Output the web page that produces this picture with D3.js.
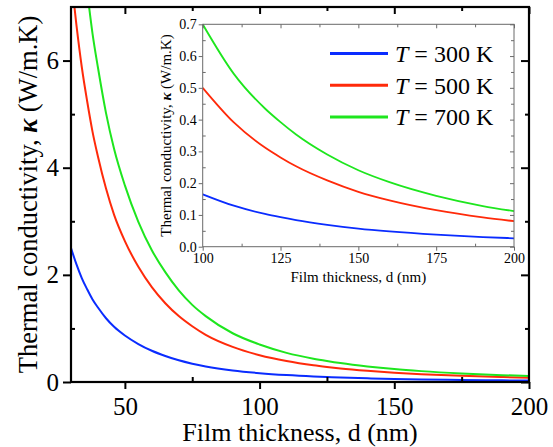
<!DOCTYPE html>
<html><head><meta charset="utf-8">
<script src="https://cdn.jsdelivr.net/npm/d3@7"></script>
<style>body{margin:0;background:#fff}svg{display:block}text{font-family:"Liberation Serif","Times New Roman",Times,serif}</style></head>
<body>
<svg id="c" width="553" height="447"></svg>
<script>
// Film thickness d (nm)
const thickness = [30,32,34,36,38,40,43,46,50,55,60,65,70,75,80,90,100,110,120,125,130,140,150,160,175,190,200];
// Thermal conductivity (W/m.K)
const k300 = [2.50,2.20,1.94,1.73,1.54,1.39,1.19,1.03,0.868,0.709,0.583,0.486,0.405,0.342,0.291,0.216,0.165,0.129,0.103,0.0928,0.0836,0.0688,0.057,0.0481,0.0379,0.0304,0.0265];
const k500 = [7.58,6.67,5.88,5.24,4.67,4.21,3.61,3.12,2.63,2.15,1.77,1.47,1.23,1.04,0.88,0.655,0.50,0.391,0.312,0.281,0.253,0.2085,0.1727,0.1457,0.1148,0.0921,0.0803];
const k700 = [10.55,9.28,8.19,7.30,6.50,5.87,5.02,4.35,3.67,2.99,2.46,2.05,1.71,1.44,1.23,0.91,0.70,0.544,0.435,0.392,0.353,0.290,0.2405,0.203,0.160,0.128,0.112];
const seriesLabels = ["300 K","500 K","700 K"];
const seriesColors = ["#0a2cff","#ff2a0a","#1ee61e"];

const mainXTicks = [50,100,150,200];
const mainXMinor = [75,125,175];
const mainYTicks = [0,2,4,6];
const mainYMinor = [1,3,5];
const insetXTicks = [100,125,150,175,200];
const insetXMinor = [112.5,137.5,162.5,187.5];
const insetYTicks = [0,0.1,0.2,0.3,0.4,0.5,0.6,0.7];
const insetYMinor = [0.05,0.15,0.25,0.35,0.45,0.55,0.65];

const series = [k300,k500,k700].map((vals,i)=>({
  label: seriesLabels[i], color: seriesColors[i],
  pts: thickness.map((d,j)=>({d, v: vals[j]}))
}));

const svg = d3.select("#c");
const serif = "Liberation Serif";

// ---------- main plot ----------
const L=71,R=529,T=7,B=382;
const x = d3.scaleLinear([30,200],[L,R]);
const y = d3.scaleLinear([0,7],[B,T]);

svg.append("clipPath").attr("id","mclip").append("rect")
  .attr("x",L).attr("y",T).attr("width",R-L).attr("height",B-T);

const line = d3.line().x(p=>x(p.d)).y(p=>y(p.v)).curve(d3.curveMonotoneX);
const gm = svg.append("g").attr("clip-path","url(#mclip)");
series.forEach(s=>{
  gm.append("path").attr("d",line(s.pts)).attr("fill","none")
    .attr("stroke",s.color).attr("stroke-width",2);
});

function styleAxis(g, fs, color){
  g.attr("font-family",null);
  g.select(".domain").remove();
  g.selectAll("text").attr("font-family",serif).attr("font-size",fs).attr("fill","#000");
  g.selectAll("line").attr("stroke",color);
}
function ax(axis, tx, ty, fs, color, sw){
  const gg = svg.append("g").attr("transform",`translate(${tx},${ty})`).call(axis);
  styleAxis(gg,fs,color); gg.selectAll("line").attr("stroke-width",sw);
  return gg;
}
// bottom
ax(d3.axisBottom(x).tickValues(mainXTicks).tickSize(7).tickPadding(8).tickFormat(d3.format("d")),0,B,25,"#000",2);
ax(d3.axisBottom(x).tickValues(mainXMinor).tickSize(-5).tickFormat(""),0,B,25,"#000",2);
// top
ax(d3.axisTop(x).tickValues(mainXTicks).tickSize(-7).tickFormat(""),0,T,25,"#000",2);
ax(d3.axisTop(x).tickValues(mainXMinor).tickSize(-4).tickFormat(""),0,T,25,"#000",2);
// left
ax(d3.axisLeft(y).tickValues(mainYTicks).tickSize(8).tickPadding(4).tickFormat(d3.format("d")),L,0,25,"#000",2);
ax(d3.axisLeft(y).tickValues(mainYMinor).tickSize(-4).tickFormat(""),L,0,25,"#000",2);
// right
ax(d3.axisRight(y).tickValues(mainYTicks).tickSize(-8).tickFormat(""),R,0,25,"#000",2);
ax(d3.axisRight(y).tickValues(mainYMinor).tickSize(-4).tickFormat(""),R,0,25,"#000",2);

svg.append("rect").attr("x",L).attr("y",T).attr("width",R-L).attr("height",B-T)
  .attr("fill","none").attr("stroke","#000").attr("stroke-width",2.2);

// main labels
svg.append("text").attr("x",(L+R)/2).attr("y",441).attr("text-anchor","middle")
  .attr("font-family",serif).attr("font-size",26).text("Film thickness, d (nm)");
const yl = svg.append("text").attr("transform",`translate(37,${(T+B)/2}) rotate(-90)`)
  .attr("text-anchor","middle").attr("font-family",serif).attr("font-size",26.5);
yl.append("tspan").text("Thermal conductivity, ");
yl.append("tspan").attr("font-style","italic").attr("font-weight","bold").text("κ");
yl.append("tspan").text(" (W/m.K)");

// ---------- inset ----------
const iL=202.7,iR=514,iT=24.3,iB=246.7;
const xi = d3.scaleLinear([100,200],[iL,iR]);
const yi = d3.scaleLinear([0,0.7],[iB,iT]);
const lineI = d3.line().x(p=>xi(p.d)).y(p=>yi(p.v)).curve(d3.curveMonotoneX);
svg.append("clipPath").attr("id","iclip").append("rect")
  .attr("x",iL).attr("y",iT-2).attr("width",iR-iL).attr("height",iB-iT+2);
const gi = svg.append("g").attr("clip-path","url(#iclip)");
series.forEach(s=>{
  gi.append("path").attr("d",lineI(s.pts.filter(p=>p.d>=100))).attr("fill","none")
    .attr("stroke",s.color).attr("stroke-width",1.8);
});
const gc = "#6a6a6a";
ax(d3.axisBottom(xi).tickValues(insetXTicks).tickSize(4).tickPadding(2).tickFormat(d3.format("d")),0,iB,14,gc,1);
ax(d3.axisBottom(xi).tickValues(insetXMinor).tickSize(-3).tickFormat(""),0,iB,14,gc,1);
ax(d3.axisTop(xi).tickValues(insetXTicks).tickSize(-4).tickFormat(""),0,iT,14,gc,1);
ax(d3.axisTop(xi).tickValues(insetXMinor).tickSize(-3).tickFormat(""),0,iT,14,gc,1);
ax(d3.axisLeft(yi).tickValues(insetYTicks).tickSize(4).tickPadding(2).tickFormat(d3.format(".1f")),iL,0,14,gc,1);
ax(d3.axisLeft(yi).tickValues(insetYMinor).tickSize(-3).tickFormat(""),iL,0,14,gc,1);
ax(d3.axisRight(yi).tickValues(insetYTicks).tickSize(-4).tickFormat(""),iR,0,14,gc,1);
ax(d3.axisRight(yi).tickValues(insetYMinor).tickSize(-3).tickFormat(""),iR,0,14,gc,1);
svg.append("rect").attr("x",iL).attr("y",iT).attr("width",iR-iL).attr("height",iB-iT)
  .attr("fill","none").attr("stroke",gc).attr("stroke-width",1);

svg.append("text").attr("x",(iL+iR)/2).attr("y",282).attr("text-anchor","middle")
  .attr("font-family",serif).attr("font-size",15).text("Film thickness, d (nm)");
const yli = svg.append("text").attr("transform",`translate(170.5,${(iT+iB)/2}) rotate(-90)`)
  .attr("text-anchor","middle").attr("font-family",serif).attr("font-size",15);
yli.append("tspan").text("Thermal conductivity, ");
yli.append("tspan").attr("font-style","italic").attr("font-weight","bold").text("κ");
yli.append("tspan").text(" (W/m.K)");

// legend
const lg = svg.append("g");
series.forEach((s,i)=>{
  const yy = 53.5 + i*31.7;
  lg.append("line").attr("x1",330).attr("x2",388).attr("y1",yy).attr("y2",yy)
    .attr("stroke",s.color).attr("stroke-width",3);
  const t = lg.append("text").attr("x",395).attr("y",yy+8.5)
    .attr("font-family",serif).attr("font-size",24);
  t.append("tspan").attr("font-style","italic").text("T");
  t.append("tspan").text(" = " + s.label);
});
</script>
</body></html>
